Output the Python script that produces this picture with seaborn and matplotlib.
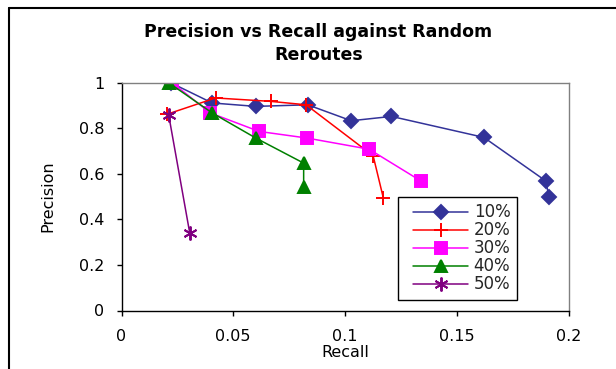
import matplotlib
matplotlib.use("Agg")
import matplotlib.pyplot as plt
from matplotlib.lines import Line2D
from matplotlib.legend_handler import HandlerLine2D
import pandas as pd
import seaborn as sns

# Precision/recall pairs for each reroute rate
series_names = ["10%", "20%", "30%", "40%", "50%"]

recall_10 = [0.0220, 0.0406, 0.0601, 0.0833, 0.1028, 0.1208, 0.1621, 0.1898, 0.1913]
precision_10 = [1.000, 0.911, 0.896, 0.903, 0.833, 0.852, 0.760, 0.569, 0.497]

recall_20 = [0.0205, 0.0421, 0.0668, 0.0826, 0.1126, 0.1171]
precision_20 = [0.862, 0.933, 0.918, 0.903, 0.679, 0.496]

recall_30 = [0.0226, 0.0398, 0.0616, 0.0830, 0.1108, 0.1339]
precision_30 = [1.000, 0.867, 0.786, 0.757, 0.708, 0.569]

recall_40 = [0.0211, 0.0406, 0.0601, 0.0815, 0.0815]
precision_40 = [1.000, 0.867, 0.757, 0.647, 0.544]

recall_50 = [0.0211, 0.0305]
precision_50 = [0.859, 0.342]

x_ticks = [0, 0.05, 0.1, 0.15, 0.2]
x_tick_labels = ["0", "0.05", "0.1", "0.15", "0.2"]
y_ticks = [0, 0.2, 0.4, 0.6, 0.8, 1.0]
y_tick_labels = ["0", "0.2", "0.4", "0.6", "0.8", "1"]

recalls = [recall_10, recall_20, recall_30, recall_40, recall_50]
precisions = [precision_10, precision_20, precision_30, precision_40, precision_50]

frames = []
for name, r, p in zip(series_names, recalls, precisions):
    frames.append(pd.DataFrame({"Recall": r, "Precision": p, "Rate": name}))
df = pd.concat(frames, ignore_index=True)

sns.set_theme(style="white")
plt.rcParams["font.family"] = ["DejaVu Sans"]

colors = ["#333399", "#FF0000", "#FF00FF", "#008000", "#800080"]
markers = ["D", "+", "s", "^", (6, 2, 0)]
msizes = [7.5, 10, 8, 9, 10]

fig = plt.figure(figsize=(6.16, 3.69), dpi=100)
ax = fig.add_axes([121.5 / 616, 1 - 310.5 / 369, 447 / 616, 227.8 / 369])

for name, c, m, ms in zip(series_names, colors, markers, msizes):
    sub = df[df["Rate"] == name]
    sns.lineplot(data=sub, x="Recall", y="Precision", sort=False, ax=ax,
                 color=c, marker=m, markersize=ms, linewidth=1.1,
                 markeredgecolor=c, markerfacecolor=c, markeredgewidth=1.4,
                 label=name, estimator=None)

ax.set_xlim(0, 0.2)
ax.set_ylim(0, 1)
ax.set_xticks(x_ticks)
ax.set_xticklabels(x_tick_labels)
ax.set_yticks(y_ticks)
ax.set_yticklabels(y_tick_labels)
ax.tick_params(axis="both", direction="out", length=3.8, width=1, color="black",
               labelsize=11.5, left=True, bottom=True, labelcolor="black")
ax.tick_params(axis="x", pad=9.5)
ax.tick_params(axis="y", pad=8.5)

for side in ["left", "bottom"]:
    ax.spines[side].set_color("black")
    ax.spines[side].set_linewidth(1)
for side in ["top", "right"]:
    ax.spines[side].set_color("#808080")
    ax.spines[side].set_linewidth(1)
    ax.spines[side].set_visible(True)

ax.set_xlabel("Recall", fontsize=11.5, labelpad=1, color="black")
ax.set_ylabel("Precision", fontsize=11.5, labelpad=17, color="black")

fig.text(0.517, 1 - 43.5 / 369, "Precision vs Recall against Random\nReroutes",
         ha="center", va="center", fontsize=12.5, fontweight="bold",
         linespacing=1.3, color="black")

leg = ax.legend(loc="lower left", bbox_to_anchor=(0.6186, 0.046), borderaxespad=0,
                fontsize=12, handlelength=3.8, labelspacing=0.0,
                frameon=True, fancybox=False, edgecolor="black",
                framealpha=1, borderpad=0.4, handletextpad=0.34,
                handler_map={Line2D: HandlerLine2D(xpad=0.5)})
leg.get_frame().set_linewidth(1)

# Chart-area border on the top and left edges
fig.add_artist(Line2D([9 / 616, 1.0], [1 - 8 / 369, 1 - 8 / 369], color="black",
                      linewidth=1.5, transform=fig.transFigure))
fig.add_artist(Line2D([9 / 616, 9 / 616], [0, 1 - 8 / 369], color="black",
                      linewidth=1.5, transform=fig.transFigure))

fig.savefig("out.png", dpi=100)
